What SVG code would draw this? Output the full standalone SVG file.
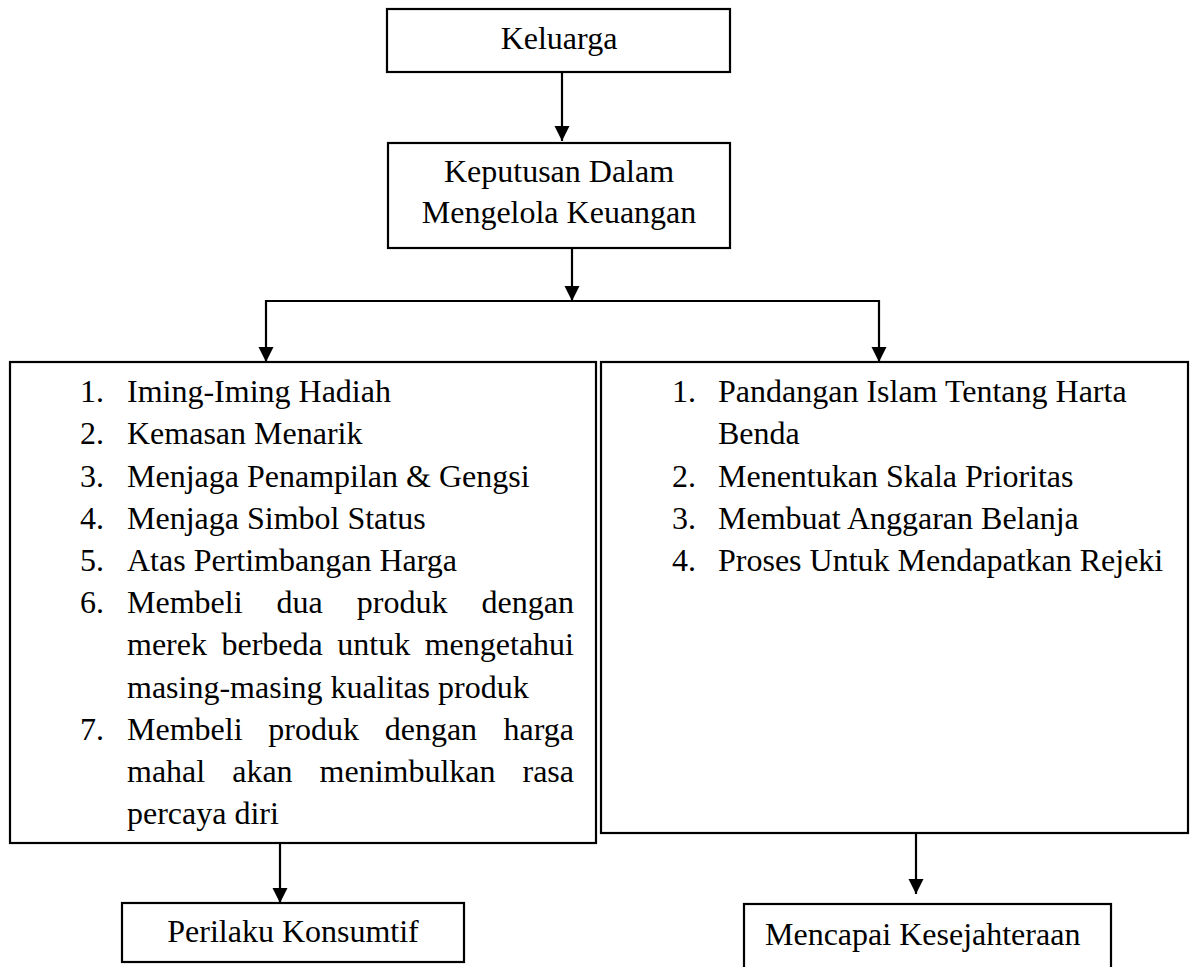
<svg xmlns="http://www.w3.org/2000/svg" width="1194" height="967" viewBox="0 0 1194 967">
<style>
.box{fill:#fff;stroke:#000;stroke-width:2.2}
.t{font-family:"Liberation Serif","Times New Roman",serif;font-size:32px;fill:#000}
.c{text-anchor:middle}
.e{text-anchor:end}
.ln{fill:none;stroke:#000;stroke-width:2.2}
</style>
<defs>
<marker id="ah" markerUnits="userSpaceOnUse" markerWidth="16" markerHeight="16" viewBox="0 0 16 16" refX="15" refY="7.5" orient="auto">
<path d="M0,0 L15,7.5 L0,15 z" fill="#000"/>
</marker>
</defs>
<rect width="1194" height="967" fill="#fff"/>
<g id="connectors">
<line class="ln" x1="562" y1="72" x2="562" y2="141" marker-end="url(#ah)"/>
<line class="ln" x1="572" y1="249" x2="572" y2="301" marker-end="url(#ah)"/>
<line class="ln" x1="265" y1="301" x2="880" y2="301" style="stroke-width:1.8"/>
<line class="ln" x1="266" y1="300" x2="266" y2="362" marker-end="url(#ah)"/>
<line class="ln" x1="879" y1="300" x2="879" y2="362" marker-end="url(#ah)"/>
<line class="ln" x1="280" y1="843" x2="280" y2="903" marker-end="url(#ah)"/>
<line class="ln" x1="916" y1="833" x2="916" y2="894" marker-end="url(#ah)"/>
</g>
<g id="keluarga">
<rect class="box" x="387" y="9" width="343" height="63"/>
<text class="t c" x="559" y="49">Keluarga</text>
</g>
<g id="keputusan">
<rect class="box" x="388" y="143" width="342" height="105"/>
<text class="t c" x="559" y="182">Keputusan Dalam</text>
<text class="t c" x="559" y="223">Mengelola Keuangan</text>
</g>
<g id="faktor-konsumtif">
<rect class="box" x="10" y="362" width="586" height="481"/>
<text class="t" x="80" y="402">1.</text><text class="t" x="127" y="402">Iming-Iming Hadiah</text>
<text class="t" x="80" y="444">2.</text><text class="t" x="127" y="444">Kemasan Menarik</text>
<text class="t" x="80" y="486.5">3.</text><text class="t" x="127" y="486.5">Menjaga Penampilan &amp; Gengsi</text>
<text class="t" x="80" y="528.5">4.</text><text class="t" x="127" y="528.5">Menjaga Simbol Status</text>
<text class="t" x="80" y="571">5.</text><text class="t" x="127" y="571">Atas Pertimbangan Harga</text>
<text class="t" x="80" y="613">6.</text>
<text class="t" x="127" y="613">Membeli</text><text class="t" x="276.6" y="613">dua</text><text class="t" x="356.8" y="613">produk</text><text class="t e" x="574" y="613">dengan</text>
<text class="t" x="127" y="655">merek</text><text class="t" x="221.5" y="655">berbeda</text><text class="t" x="337.3" y="655">untuk</text><text class="t e" x="574" y="655">mengetahui</text>
<text class="t" x="127" y="697.5">masing-masing kualitas produk</text>
<text class="t" x="80" y="739.5">7.</text>
<text class="t" x="127" y="739.5">Membeli</text><text class="t" x="268.3" y="739.5">produk</text><text class="t" x="384.7" y="739.5">dengan</text><text class="t e" x="574" y="739.5">harga</text>
<text class="t" x="127" y="782">mahal</text><text class="t" x="232.2" y="782">akan</text><text class="t" x="319.6" y="782">menimbulkan</text><text class="t e" x="574" y="782">rasa</text>
<text class="t" x="127" y="824">percaya diri</text>
</g>
<g id="faktor-kesejahteraan">
<rect class="box" x="601" y="362" width="587" height="471"/>
<text class="t" x="672" y="402">1.</text><text class="t" x="718" y="402">Pandangan Islam Tentang Harta</text>
<text class="t" x="718" y="444">Benda</text>
<text class="t" x="672" y="486.5">2.</text><text class="t" x="718" y="486.5">Menentukan Skala Prioritas</text>
<text class="t" x="672" y="528.5">3.</text><text class="t" x="718" y="528.5">Membuat Anggaran Belanja</text>
<text class="t" x="672" y="571">4.</text><text class="t" x="718" y="571">Proses Untuk Mendapatkan Rejeki</text>
</g>
<g id="perilaku-konsumtif">
<rect class="box" x="122" y="903" width="342" height="59"/>
<text class="t c" x="293" y="942">Perilaku Konsumtif</text>
</g>
<g id="mencapai-kesejahteraan">
<rect class="box" x="744" y="904" width="367" height="90"/>
<text class="t" x="765" y="945">Mencapai Kesejahteraan</text>
</g>
</svg>
